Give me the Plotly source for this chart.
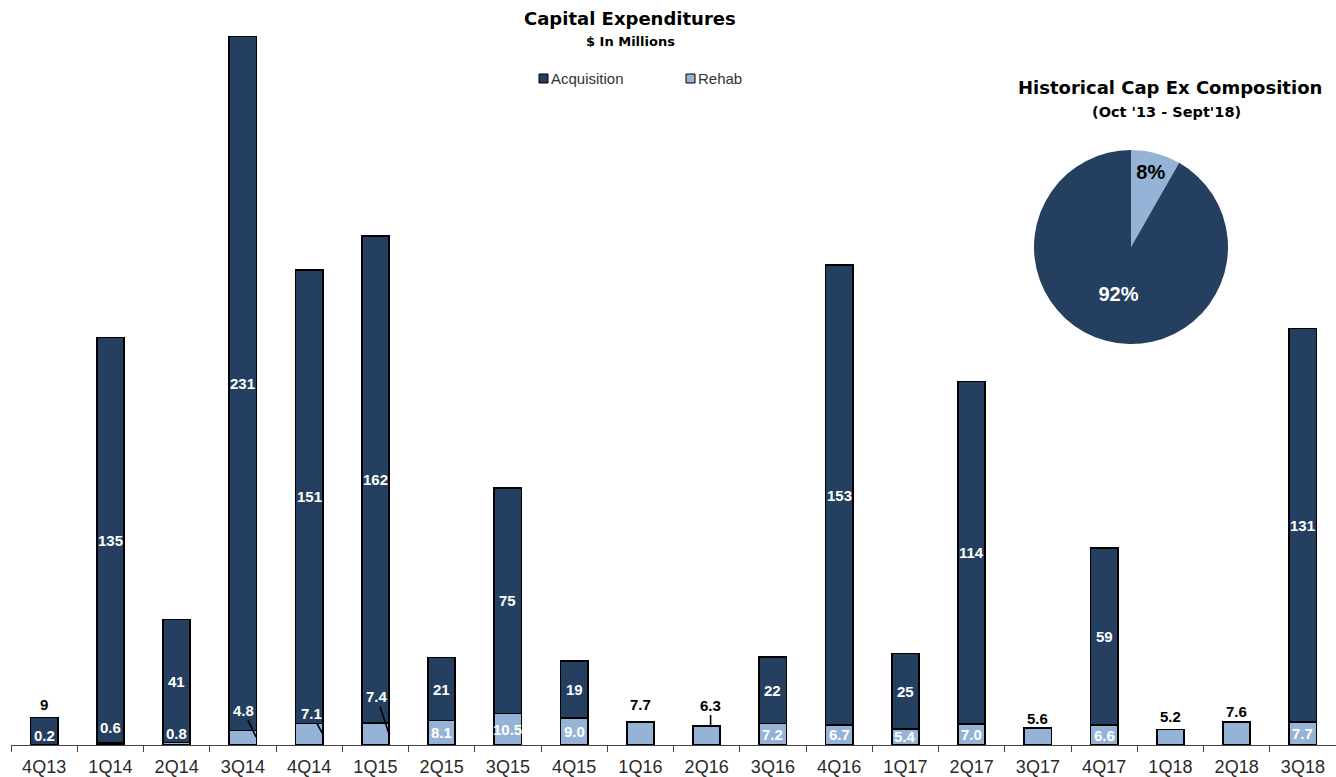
import plotly.graph_objects as go

# ---------------- data ----------------
quarters = ["4Q13", "1Q14", "2Q14", "3Q14", "4Q14", "1Q15", "2Q15", "3Q15", "4Q15", "1Q16",
            "2Q16", "3Q16", "4Q16", "1Q17", "2Q17", "3Q17", "4Q17", "1Q18", "2Q18", "3Q18"]
acquisition = [9, 135, 41, 231, 151, 162, 21, 75, 19, None,
               None, 22, 153, 25, 114, None, 59, None, None, 131]
rehab = [0.2, 0.6, 0.8, 4.8, 7.1, 7.4, 8.1, 10.5, 9.0, 7.7,
         6.3, 7.2, 6.7, 5.4, 7.0, 5.6, 6.6, 5.2, 7.6, 7.7]
pie_labels = ["Rehab", "Acquisition"]
pie_values = [sum(rehab), sum(a for a in acquisition if a)]

# ---------------- style ----------------
DARK = "#253f60"
LIGHT = "#95b3d7"
FONT = "Liberation Sans, Arial, sans-serif"
TFONT = "DejaVu Sans, sans-serif"
W, H = 1336, 777
ML, MR, MT, MB = 11, 0, 0, 32
PW, PH = W - ML - MR, H - MT - MB

def px(x):
    return (x - ML) / PW

def py(y):
    return 1 - (y - MT) / PH

# label lift (px above bar top) for labels placed above bars
lift_above = {"4Q13": 13, "1Q16": 17, "3Q17": 10, "1Q18": 13, "2Q18": 11}
# small rehab labels drawn inside the dark segment (px above baseline)
lift_small = {"4Q13": 10, "1Q14": 18, "2Q14": 12}
# leader-line labels: (head x offset in categories, head y fraction, ax, ay, color)
leaders = {"3Q14": (0.2, 0.55, -13, -27, "white"),
           "4Q14": (0.2, 0.55, -11, -20, "white"),
           "1Q15": (0.2, 0.55, -12, -36, "white"),
           "2Q16": (0.06, 1.0, 0, -21, "black")}

fig = go.Figure()
fig.add_trace(go.Bar(x=quarters, y=rehab, name="Rehab", marker=dict(color=LIGHT, line=dict(color="black", width=1.6)),
                     hoverinfo="x+y"))
fig.add_trace(go.Bar(x=quarters, y=acquisition, name="Acquisition",
                     marker=dict(color=DARK, line=dict(color="black", width=1.6)), hoverinfo="x+y"))

annotations = []
lab_font_w = dict(family=FONT, size=15, color="white")
lab_font_b = dict(family=FONT, size=15, color="black")
for i, q in enumerate(quarters):
    r = rehab[i]
    a = acquisition[i]
    # acquisition label
    if a:
        if q in lift_above:
            annotations.append(dict(x=q, y=r + a, text=f"<b>{a}</b>", showarrow=False, yanchor="middle",
                                    yshift=lift_above[q], font=lab_font_b))
        else:
            annotations.append(dict(x=q, y=r + a / 2, text=f"<b>{a}</b>", showarrow=False, yanchor="middle",
                                    font=lab_font_w))
    # rehab label
    rt = f"<b>{r:.1f}</b>"
    if q in leaders:
        dx, fy, ax, ay, col = leaders[q]
        annotations.append(dict(x=i + dx, y=r * fy, text=rt, showarrow=True, arrowhead=0, arrowwidth=1.6,
                                arrowcolor="black", ax=ax, ay=ay, standoff=0,
                                font=dict(family=FONT, size=15, color=col)))
    elif not a:
        annotations.append(dict(x=q, y=r, text=rt, showarrow=False, yanchor="middle",
                                yshift=lift_above.get(q, 12), font=lab_font_b))
    elif q in lift_small:
        annotations.append(dict(x=q, y=0, text=rt, showarrow=False, yanchor="middle",
                                yshift=lift_small[q], font=lab_font_w))
    else:
        annotations.append(dict(x=q, y=r / 2, text=rt, showarrow=False, yanchor="middle", font=lab_font_w))

def txt(x, y, text, size, color="black", xanchor="center", family=TFONT):
    return dict(xref="paper", yref="paper", x=px(x), y=py(y), text=text, showarrow=False,
                xanchor=xanchor, yanchor="middle", font=dict(family=family, size=size, color=color))

# titles and legend
annotations += [
    txt(630, 19, "<b>Capital Expenditures</b>", 18),
    txt(630, 42, "<b>$ In Millions</b>", 13),
    txt(1170, 88, "<b>Historical Cap Ex Composition</b>", 18),
    txt(1166, 112, "<b>(Oct '13 - Sept'18)</b>", 14.5),
    txt(549, 78, "Acquisition", 15, "#333333", "left", FONT),
    txt(696, 78, "Rehab", 15, "#333333", "left", FONT),
]

shapes = [
    dict(type="rect", xref="paper", yref="paper", x0=px(539), x1=px(548), y0=py(83), y1=py(74),
         fillcolor=DARK, line=dict(color="black", width=1)),
    dict(type="rect", xref="paper", yref="paper", x0=px(686), x1=px(695), y0=py(83), y1=py(74),
         fillcolor=LIGHT, line=dict(color="black", width=1)),
]

fig.add_trace(go.Pie(labels=pie_labels, values=pie_values, sort=False, direction="clockwise", rotation=0,
                     marker=dict(colors=[LIGHT, DARK], line=dict(width=0)),
                     texttemplate="<b>%{percent:.0%}</b>", textposition="inside",
                     insidetextorientation="horizontal",
                     textfont=dict(family=FONT, size=20, color=["black", "white"]),
                     domain=dict(x=[px(1034), px(1228)], y=[py(344), py(150)]),
                     showlegend=False, hoverinfo="label+percent"))

fig.update_layout(
    width=W, height=H, autosize=False,
    margin=dict(l=ML, r=MR, t=MT, b=MB, pad=0),
    barmode="stack", bargap=0.59,
    plot_bgcolor="white", paper_bgcolor="white",
    showlegend=False,
    annotations=annotations, shapes=shapes,
    font=dict(family=FONT),
    xaxis=dict(type="category", showline=True, linecolor="#444444", linewidth=1.2, ticks="outside",
               tickson="boundaries", ticklen=6, tickcolor="#444444", showgrid=False,
               ticklabelstandoff=5,
               tickfont=dict(family=FONT, size=18, color="#2a2a2a"), range=[-0.5, 19.5]),
    yaxis=dict(range=[0, 248], visible=False, showgrid=False, zeroline=False),
)

fig.write_html("out.html")
